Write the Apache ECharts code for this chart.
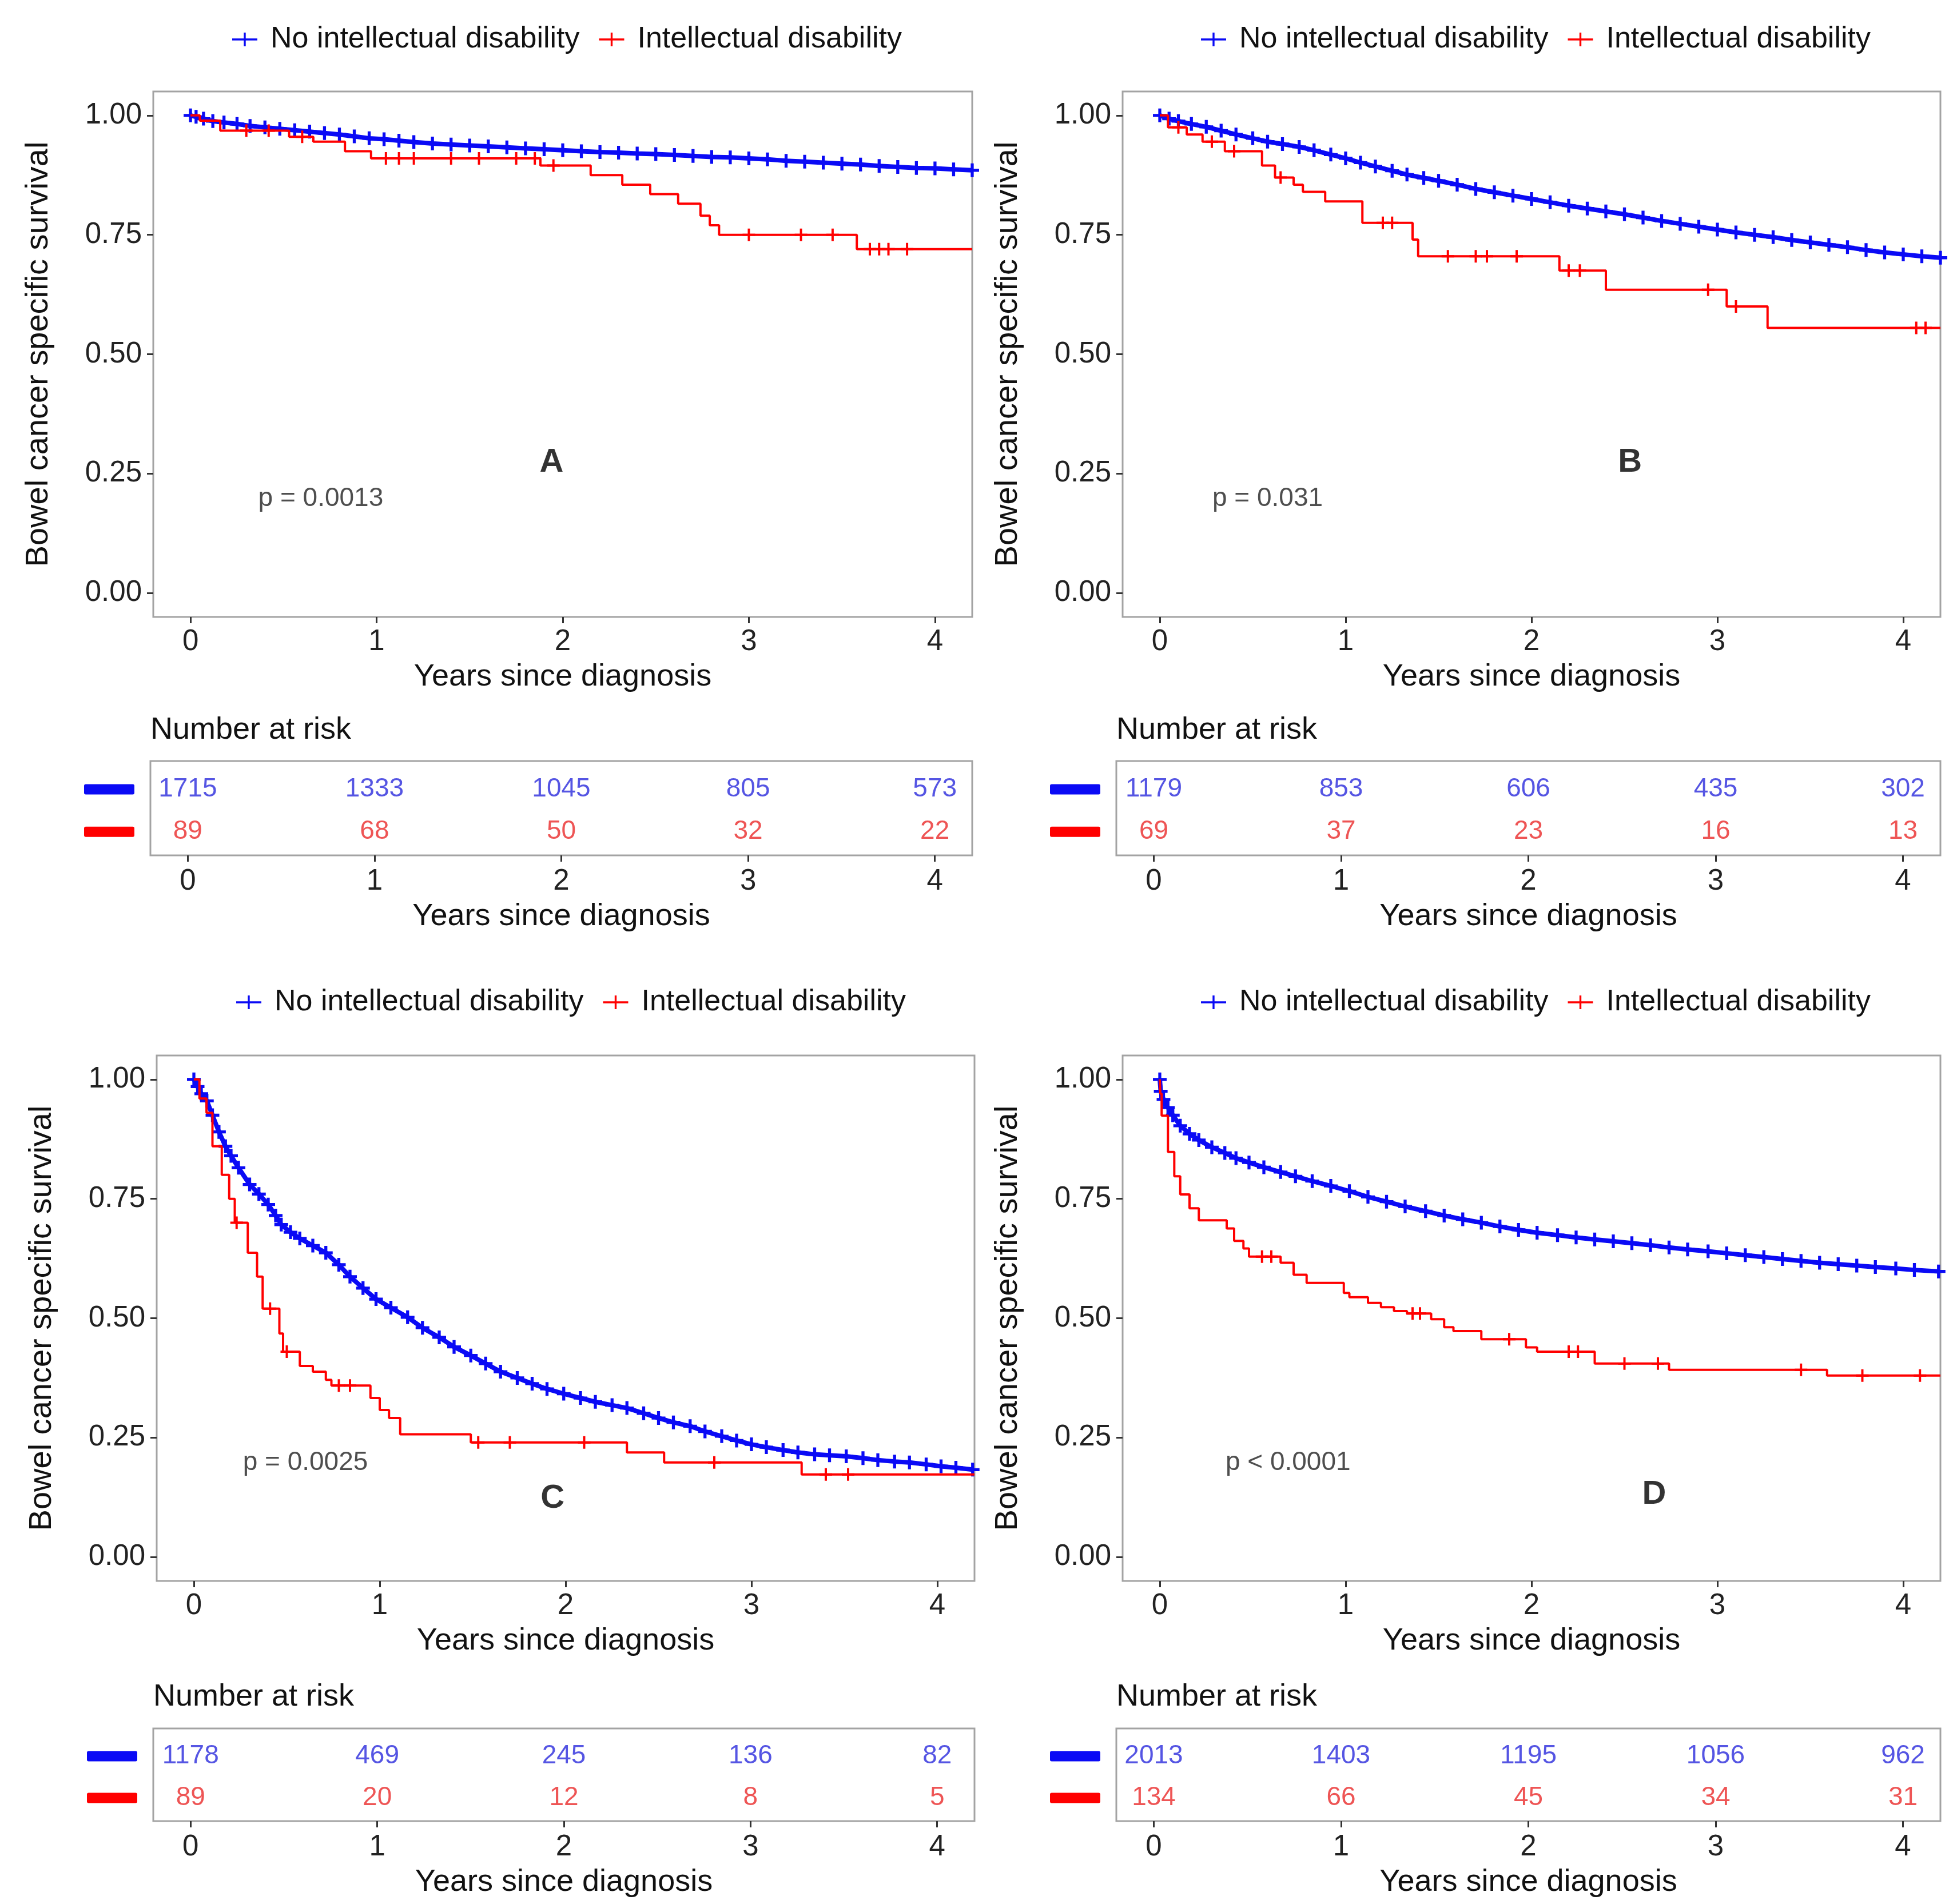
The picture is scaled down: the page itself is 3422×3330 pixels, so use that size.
<!DOCTYPE html>
<html><head><meta charset="utf-8">
<script src="https://cdn.jsdelivr.net/npm/echarts@6/dist/echarts.min.js"></script>
<style>html,body{margin:0;padding:0;background:#fff}#c{width:3422px;height:3330px}</style>
</head><body><div id="c"></div>
<script>
// ---------------- data ----------------
const seriesNames = ['No intellectual disability', 'Intellectual disability'];
const xTicks = [0, 1, 2, 3, 4];
const yTicks = [0, 0.25, 0.5, 0.75, 1];
const riskTimes = [0, 1, 2, 3, 4];
const panelLetters = ['A', 'B', 'C', 'D'];
const pValues = ['p = 0.0013', 'p = 0.031', 'p = 0.0025', 'p < 0.0001'];

// No intellectual disability: [years, survival] (each point carries a censor mark)
const blueA = [[0,1.0],[0.03,0.997],[0.07,0.993],[0.12,0.988],[0.18,0.985],[0.25,0.982],[0.32,0.978],[0.4,0.975],[0.48,0.972],[0.56,0.969],[0.64,0.966],[0.72,0.963],[0.8,0.96],[0.88,0.956],[0.96,0.952],[1.04,0.95],[1.12,0.947],[1.2,0.944],[1.3,0.941],[1.4,0.939],[1.5,0.937],[1.6,0.935],[1.7,0.933],[1.8,0.931],[1.9,0.929],[2.0,0.927],[2.1,0.925],[2.2,0.923],[2.3,0.922],[2.4,0.92],[2.5,0.919],[2.6,0.917],[2.7,0.915],[2.8,0.913],[2.9,0.912],[3.0,0.91],[3.1,0.908],[3.2,0.905],[3.3,0.903],[3.4,0.901],[3.5,0.899],[3.6,0.897],[3.7,0.894],[3.8,0.892],[3.9,0.89],[4.0,0.889],[4.1,0.887],[4.2,0.885]];
const blueB = [[0,1.0],[0.05,0.993],[0.1,0.988],[0.17,0.982],[0.25,0.976],[0.33,0.968],[0.41,0.96],[0.5,0.952],[0.58,0.945],[0.66,0.94],[0.75,0.934],[0.83,0.927],[0.92,0.918],[1.0,0.91],[1.08,0.901],[1.16,0.893],[1.25,0.884],[1.33,0.876],[1.42,0.869],[1.5,0.863],[1.6,0.855],[1.7,0.846],[1.8,0.839],[1.9,0.832],[2.0,0.825],[2.1,0.818],[2.2,0.811],[2.3,0.805],[2.4,0.799],[2.5,0.793],[2.6,0.786],[2.7,0.779],[2.8,0.773],[2.9,0.767],[3.0,0.761],[3.1,0.755],[3.2,0.75],[3.3,0.745],[3.4,0.739],[3.5,0.734],[3.6,0.729],[3.7,0.724],[3.8,0.718],[3.9,0.713],[4.0,0.709],[4.1,0.705],[4.2,0.702]];
const blueC = [[0,1.0],[0.02,0.985],[0.04,0.97],[0.07,0.955],[0.1,0.925],[0.135,0.89],[0.17,0.86],[0.2,0.84],[0.24,0.815],[0.3,0.78],[0.35,0.76],[0.4,0.738],[0.44,0.715],[0.47,0.696],[0.52,0.68],[0.57,0.667],[0.64,0.652],[0.71,0.637],[0.78,0.612],[0.84,0.587],[0.91,0.563],[0.98,0.54],[1.06,0.522],[1.15,0.502],[1.23,0.48],[1.32,0.46],[1.4,0.44],[1.49,0.422],[1.57,0.405],[1.65,0.388],[1.74,0.375],[1.82,0.363],[1.9,0.352],[1.99,0.342],[2.08,0.333],[2.16,0.325],[2.25,0.318],[2.33,0.312],[2.42,0.301],[2.5,0.291],[2.58,0.282],[2.67,0.274],[2.75,0.263],[2.84,0.253],[2.92,0.244],[3.0,0.236],[3.08,0.23],[3.17,0.224],[3.25,0.219],[3.34,0.215],[3.42,0.213],[3.51,0.211],[3.6,0.207],[3.68,0.203],[3.77,0.2],[3.85,0.198],[3.94,0.194],[4.02,0.19],[4.1,0.187],[4.19,0.183]];
const blueD = [[0,1.0],[0.005,0.975],[0.02,0.958],[0.044,0.941],[0.07,0.925],[0.11,0.903],[0.16,0.886],[0.21,0.873],[0.28,0.858],[0.35,0.846],[0.41,0.835],[0.48,0.826],[0.56,0.816],[0.65,0.806],[0.73,0.797],[0.82,0.787],[0.92,0.777],[1.02,0.766],[1.12,0.754],[1.22,0.744],[1.32,0.734],[1.43,0.724],[1.53,0.715],[1.63,0.707],[1.73,0.7],[1.83,0.692],[1.93,0.685],[2.03,0.679],[2.14,0.674],[2.24,0.669],[2.34,0.665],[2.44,0.661],[2.54,0.657],[2.64,0.653],[2.74,0.648],[2.84,0.644],[2.95,0.64],[3.05,0.636],[3.15,0.632],[3.25,0.628],[3.35,0.624],[3.45,0.62],[3.55,0.616],[3.65,0.613],[3.75,0.61],[3.85,0.607],[3.96,0.604],[4.06,0.601],[4.19,0.598]];

// Intellectual disability: [years, survival, censored(1) / event(0)]
const redA = [[0,1,0],[0.05,0.989,0],[0.16,0.968,0],[0.3,0.968,1],[0.42,0.968,1],[0.53,0.955,0],[0.6,0.955,1],[0.66,0.945,0],[0.83,0.925,0],[0.97,0.91,0],[1.05,0.91,1],[1.12,0.91,1],[1.2,0.91,1],[1.4,0.91,1],[1.55,0.91,1],[1.75,0.91,1],[1.85,0.91,1],[1.88,0.895,0],[1.95,0.895,1],[2.15,0.875,0],[2.32,0.855,0],[2.47,0.835,0],[2.62,0.815,0],[2.74,0.79,0],[2.79,0.77,0],[2.84,0.75,0],[3.0,0.75,1],[3.28,0.75,1],[3.45,0.75,1],[3.58,0.72,0],[3.65,0.72,1],[3.7,0.72,1],[3.75,0.72,1],[3.85,0.72,1],[4.2,0.72,0]];
const redB = [[0,1,0],[0.044,0.975,0],[0.1,0.975,1],[0.145,0.96,0],[0.23,0.945,0],[0.28,0.945,1],[0.35,0.925,0],[0.4,0.925,1],[0.55,0.895,0],[0.62,0.87,0],[0.65,0.87,1],[0.72,0.855,0],[0.77,0.84,0],[0.89,0.82,0],[1.09,0.775,0],[1.2,0.775,1],[1.25,0.775,1],[1.36,0.74,0],[1.39,0.705,0],[1.55,0.705,1],[1.7,0.705,1],[1.76,0.705,1],[1.92,0.705,1],[2.15,0.675,0],[2.2,0.675,1],[2.26,0.675,1],[2.4,0.635,0],[2.95,0.635,1],[3.05,0.6,0],[3.1,0.6,1],[3.27,0.555,0],[4.07,0.555,1],[4.12,0.555,1],[4.2,0.555,0]];
const redC = [[0,1,0],[0.03,0.96,0],[0.068,0.93,0],[0.1,0.86,0],[0.15,0.8,0],[0.19,0.75,0],[0.22,0.7,0],[0.23,0.7,1],[0.29,0.637,0],[0.34,0.587,0],[0.37,0.52,0],[0.41,0.52,1],[0.46,0.468,0],[0.48,0.43,0],[0.5,0.43,1],[0.57,0.4,0],[0.64,0.388,0],[0.71,0.371,0],[0.74,0.359,0],[0.78,0.359,1],[0.84,0.359,1],[0.95,0.333,0],[1.0,0.308,0],[1.05,0.291,0],[1.11,0.257,0],[1.49,0.24,0],[1.53,0.24,1],[1.7,0.24,1],[2.1,0.24,1],[2.33,0.219,0],[2.53,0.198,0],[2.8,0.198,1],[3.27,0.173,0],[3.4,0.173,1],[3.52,0.173,1],[4.2,0.173,0]];
const redD = [[0,1,0],[0.003,0.97,0],[0.01,0.924,0],[0.044,0.848,0],[0.078,0.797,0],[0.11,0.759,0],[0.16,0.73,0],[0.21,0.705,0],[0.36,0.688,0],[0.4,0.662,0],[0.45,0.646,0],[0.48,0.629,0],[0.55,0.629,1],[0.6,0.629,1],[0.65,0.616,0],[0.72,0.591,0],[0.79,0.574,0],[0.99,0.553,0],[1.02,0.544,0],[1.12,0.532,0],[1.19,0.523,0],[1.26,0.515,0],[1.33,0.51,0],[1.36,0.51,1],[1.4,0.51,1],[1.46,0.498,0],[1.53,0.481,0],[1.58,0.473,0],[1.73,0.456,0],[1.88,0.456,1],[1.97,0.439,0],[2.03,0.43,0],[2.2,0.43,1],[2.25,0.43,1],[2.34,0.405,0],[2.5,0.405,1],[2.68,0.405,1],[2.74,0.392,0],[3.45,0.392,1],[3.59,0.38,0],[3.78,0.38,1],[4.09,0.38,1],[4.2,0.38,0]];

// Number at risk at 0..4 years
const riskNoA = [1715, 1333, 1045, 805, 573];
const riskIdA = [89, 68, 50, 32, 22];
const riskNoB = [1179, 853, 606, 435, 302];
const riskIdB = [69, 37, 23, 16, 13];
const riskNoC = [1178, 469, 245, 136, 82];
const riskIdC = [89, 20, 12, 8, 5];
const riskNoD = [2013, 1403, 1195, 1056, 962];
const riskIdD = [134, 66, 45, 34, 31];

// ---------------- layout / style ----------------
const FONT = '"Liberation Sans", Arial, Helvetica, sans-serif';
const BLUE = '#0a0af5', RED = '#FF0000';
const BLUE_TXT = '#2b2bdc', RED_TXT = '#ea2a2a';
const PLUS = 'path://M0,7.8H20V12.2H0Z M7.8,0H12.2V20H7.8Z';
const PLUS_RED = 'path://M0,8.2H20V11.8H0Z M8.2,0H11.8V20H8.2Z';
const LEG_ICON = 'path://M0,12.3H44V15.7H0Z M20.3,2H23.7V26H20.3Z';
const BORDER = '#a3a3a3';

const panels = [
  {plot:{left:268, top:160, width:1432, height:919}, risk:{left:263, top:1331, width:1437, height:165},
   legend:[401, 38], riskTitle:[263, 1250], blue:blueA, red:redA, rNo:riskNoA, rId:riskIdA, pPos:[0.70,0.197], lPos:[1.94,0.273]},
  {plot:{left:1963, top:160, width:1430, height:919}, risk:{left:1952, top:1331, width:1441, height:165},
   legend:[2095, 38], riskTitle:[1952, 1250], blue:blueB, red:redB, rNo:riskNoB, rId:riskIdB, pPos:[0.58,0.197], lPos:[2.53,0.273]},
  {plot:{left:274, top:1846, width:1430, height:919}, risk:{left:268, top:3023, width:1436, height:162},
   legend:[408, 1722], riskTitle:[268, 2941], blue:blueC, red:redC, rNo:riskNoC, rId:riskIdC, pPos:[0.60,0.197], lPos:[1.93,0.122]},
  {plot:{left:1963, top:1846, width:1430, height:919}, risk:{left:1952, top:3023, width:1441, height:162},
   legend:[2095, 1722], riskTitle:[1952, 2941], blue:blueD, red:redD, rNo:riskNoD, rId:riskIdD, pPos:[0.69,0.197], lPos:[2.66,0.131]}
];

const grid = [], xAxis = [], yAxis = [], series = [], legend = [], graphic = [];

const tickStyle = {color:'#333', width:3};
function xAx(gi) {
  return {
    gridIndex: gi, type: 'value', min: -0.2, max: 4.2,
    name: 'Years since diagnosis', nameLocation: 'middle', nameGap: 78,
    nameTextStyle: {fontSize: 54, color: '#111', fontFamily: FONT},
    axisLine: {show: false, onZero: false},
    axisTick: {show: true, length: 11, lineStyle: tickStyle, customValues: xTicks},
    axisLabel: {customValues: xTicks, fontSize: 51, color: '#222', margin: 18, fontFamily: FONT},
    splitLine: {show: false}
  };
}

panels.forEach((p, k) => {
  const gp = grid.length;
  grid.push(Object.assign({show: true, borderColor: BORDER, borderWidth: 3, backgroundColor: '#fff'}, p.plot));
  const gr = grid.length;
  grid.push(Object.assign({show: true, borderColor: BORDER, borderWidth: 3, backgroundColor: '#fff'}, p.risk));

  xAxis.push(xAx(gp));
  yAxis.push({
    gridIndex: gp, type: 'value', min: -0.05, max: 1.05,
    name: 'Bowel cancer specific survival', nameLocation: 'middle', nameGap: 172, nameRotate: 90,
    nameTextStyle: {fontSize: 56, color: '#111', fontFamily: FONT},
    axisLine: {show: false, onZero: false},
    axisTick: {show: true, length: 11, lineStyle: tickStyle, customValues: yTicks},
    axisLabel: {customValues: yTicks, fontSize: 51, color: '#222', margin: 20, fontFamily: FONT,
                formatter: v => Number(v).toFixed(2)},
    splitLine: {show: false}
  });

  const rx = xAx(gr);
  rx.nameGap = 80;
  rx.axisLabel.margin = 20;
  xAxis.push(rx);
  yAxis.push({
    gridIndex: gr, type: 'value', min: 0, max: 1,
    axisLine: {show: false, onZero: false}, axisTick: {show: false}, splitLine: {show: false},
    axisLabel: {customValues: [0.25, 0.7], margin: 28,
      formatter: v => (v > 0.5 ? '{b| }' : '{r| }'),
      rich: {b: {width: 88, height: 18, backgroundColor: BLUE, borderRadius: 3},
             r: {width: 88, height: 18, backgroundColor: RED, borderRadius: 3}}}
  });

  // survival curves
  series.push({
    type: 'line', name: seriesNames[0], xAxisIndex: gp, yAxisIndex: gp,
    data: p.blue, showSymbol: true, showAllSymbol: true, symbol: PLUS, symbolSize: 24, symbolKeepAspect: true,
    lineStyle: {width: 8, color: BLUE}, itemStyle: {color: BLUE}, animation: false, silent: true, z: 3
  });
  series.push({
    type: 'line', name: seriesNames[1], xAxisIndex: gp, yAxisIndex: gp, step: 'end',
    data: p.red.map(d => ({value: [d[0], d[1]], symbolSize: d[2] ? 22 : 0})),
    showSymbol: true, showAllSymbol: true, symbol: PLUS_RED, symbolKeepAspect: true,
    lineStyle: {width: 4, color: RED}, itemStyle: {color: RED}, animation: false, silent: true, z: 4
  });

  // annotations
  series.push({
    type: 'scatter', name: 'ann' + k, xAxisIndex: gp, yAxisIndex: gp, symbolSize: 1,
    itemStyle: {color: 'rgba(0,0,0,0)'}, silent: true, animation: false,
    data: [
      {value: p.pPos, label: {show: true, position: 'inside', formatter: pValues[k], fontSize: 46, color: '#222', fontFamily: FONT}},
      {value: p.lPos, label: {show: true, position: 'inside', formatter: panelLetters[k], fontSize: 58, fontWeight: 'bold', color: '#000', fontFamily: FONT}}
    ]
  });

  // number at risk
  [[p.rNo, 0.7, BLUE_TXT], [p.rId, 0.25, RED_TXT]].forEach(([arr, row, col], j) => {
    series.push({
      type: 'scatter', name: 'risk' + k + j, xAxisIndex: gr, yAxisIndex: gr, symbolSize: 1,
      itemStyle: {color: 'rgba(0,0,0,0)'}, silent: true, animation: false,
      data: riskTimes.map((t, i) => [t, row, arr[i]]),
      label: {show: true, position: 'inside', formatter: q => String(q.data[2]), fontSize: 46, color: col, fontFamily: FONT}
    });
  });

  legend.push({
    left: p.legend[0], top: p.legend[1], orient: 'horizontal', selectedMode: false,
    itemWidth: 44, itemHeight: 28, itemGap: 34,
    textStyle: {fontSize: 52, color: '#111', fontFamily: FONT, padding: [0, 0, 0, 18]},
    data: seriesNames.map(n => ({name: n, icon: LEG_ICON}))
  });

  graphic.push({type: 'text', left: p.riskTitle[0], top: p.riskTitle[1],
    style: {text: 'Number at risk', fontSize: 54, fill: '#111', fontFamily: FONT}});
});

const chart = echarts.init(document.getElementById('c'), null, {renderer: 'canvas', devicePixelRatio: 1});
chart.setOption({
  backgroundColor: '#fff', animation: false,
  grid, xAxis, yAxis, series, legend, graphic
});
</script></body></html>
